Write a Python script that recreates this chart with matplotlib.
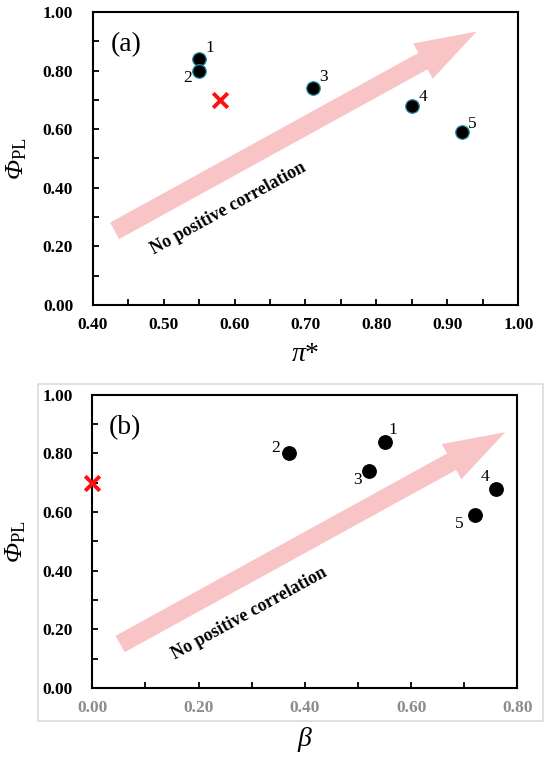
import numpy as np
import matplotlib
matplotlib.use("Agg")
import matplotlib.pyplot as plt
from matplotlib.patches import FancyArrowPatch, Rectangle

plt.rcParams['font.family'] = ['Liberation Serif', 'DejaVu Serif']
plt.rcParams['mathtext.fontset'] = 'custom'
plt.rcParams['mathtext.rm'] = 'Liberation Serif'
plt.rcParams['mathtext.it'] = 'Liberation Serif:italic'
plt.rcParams['mathtext.bf'] = 'Liberation Serif:bold'
# capital Greek is forced upright under \mathit, so route it through \mathcal
plt.rcParams['mathtext.cal'] = 'Liberation Serif:italic'

# data
sample_ids = ['1', '2', '3', '4', '5']
phi_pl = [0.84, 0.80, 0.74, 0.68, 0.59]
pi_star = [0.55, 0.55, 0.71, 0.85, 0.92]
beta = [0.55, 0.37, 0.52, 0.76, 0.72]

# reference point (red cross)
ref_phi = 0.70
ref_pi = 0.58
ref_beta = 0.00

# label offsets (points) for the numbers next to markers
offsets_a = [(8, 8), (-8, -5), (7.5, 8), (8, 6.5), (8, 6)]
offsets_b = [(6, 8.5), (-9.5, 3.5), (-8, -6.5), (-8, 8), (-11, -6.5)]

ARROW_COLOR = '#f9c4c6'
W, H = 550, 761


def style_axes(ax, xlim, xticks, xminor, tick_color='black'):
    ax.set_xlim(*xlim)
    ax.set_ylim(0, 1.0)
    ax.set_xticks(xticks)
    ax.set_xticks(xminor, minor=True)
    ax.set_yticks(np.arange(0, 1.01, 0.2))
    ax.set_yticks(np.arange(0.1, 1.0, 0.2), minor=True)
    ax.set_xticklabels(['%.2f' % t for t in xticks], fontweight='bold',
                       fontsize=12.5, color=tick_color)
    ax.set_yticklabels(['%.2f' % t for t in np.arange(0, 1.01, 0.2)],
                       fontweight='bold', fontsize=12.5)
    ax.tick_params(which='both', direction='in', length=4, width=1.3)
    ax.tick_params(axis='y', which='both', pad=14)
    ax.tick_params(axis='x', which='both', pad=9)
    ax.tick_params(top=False, right=False, which='both')
    for s in ax.spines.values():
        s.set_linewidth(1.5)
    ax.set_ylabel(r'$\mathcal{\Phi}_{\mathrm{PL}}$', fontsize=19)
    ax.yaxis.set_label_coords(-0.15, 0.5)


def add_arrow(ax, tail, tip, text_xy):
    arr = FancyArrowPatch(tail, tip, arrowstyle='simple,head_length=44,head_width=29,tail_width=13.5',
                          mutation_scale=1, color=ARROW_COLOR, lw=0,
                          shrinkA=0, shrinkB=0, zorder=1)
    ax.add_patch(arr)
    p0 = ax.transData.transform(tail)
    p1 = ax.transData.transform(tip)
    ang = np.degrees(np.arctan2(p1[1] - p0[1], p1[0] - p0[0]))
    ax.text(text_xy[0], text_xy[1], 'No positive correlation', rotation=ang,
            rotation_mode='anchor', ha='center', va='center',
            fontsize=13, fontweight='bold', zorder=2)


def add_points(ax, xs, ys, offsets, edge):
    ax.scatter(xs, ys, s=95, c='black', edgecolors=edge, linewidths=0.9, zorder=3)
    for x, y, lab, off in zip(xs, ys, sample_ids, offsets):
        ax.annotate(lab, (x, y), xytext=off, textcoords='offset points',
                    ha='center', va='center', fontsize=12.5)


fig = plt.figure(figsize=(W / 100, H / 100), dpi=100)

# panel (a)
ax1 = fig.add_axes([92.6 / W, 1 - 305 / H, 425.8 / W, 293 / H])
style_axes(ax1, (0.4, 1.0), np.arange(0.4, 1.01, 0.1), np.arange(0.45, 1.0, 0.1))
ax1.set_xlabel(r'$\mathit{\pi}$*', fontsize=20)
ax1.xaxis.set_label_coords(0.5, -0.125)
add_arrow(ax1, (0.431, 0.253), (0.941, 0.933), (0.591, 0.33))
add_points(ax1, pi_star, phi_pl, offsets_a, '#2b8ea3')
ax1.scatter([ref_pi], [ref_phi], marker='x', s=110, c='#ff1010', linewidths=2.8, zorder=3)
ax1.text(0.078, 0.887, '(a)', transform=ax1.transAxes, fontsize=20, ha='center', va='center')

# panel (b)
ax2 = fig.add_axes([92.2 / W, 1 - 688 / H, 425.2 / W, 293.3 / H])
style_axes(ax2, (0.0, 0.8), np.arange(0.0, 0.81, 0.2), np.arange(0.1, 0.8, 0.2),
           tick_color='#8c8c8c')
ax2.set_xlabel(r'$\mathit{\beta}$', fontsize=20)
ax2.xaxis.set_label_coords(0.5, -0.125)
add_arrow(ax2, (0.0525, 0.150), (0.777, 0.872), (0.295, 0.255))
add_points(ax2, beta, phi_pl, offsets_b, 'black')
ax2.scatter([ref_beta], [ref_phi], marker='x', s=110, c='#ff1010', linewidths=2.8,
            zorder=4, clip_on=False)
ax2.text(0.078, 0.887, '(b)', transform=ax2.transAxes, fontsize=20, ha='center', va='center')

# light frame around panel (b)
fig.add_artist(Rectangle((38 / W, 1 - 721 / H), 505 / W, 337 / H, transform=fig.transFigure,
                         fill=False, ec='#dcdcdc', lw=1.2))

fig.savefig('out.png', dpi=100, facecolor='white')
